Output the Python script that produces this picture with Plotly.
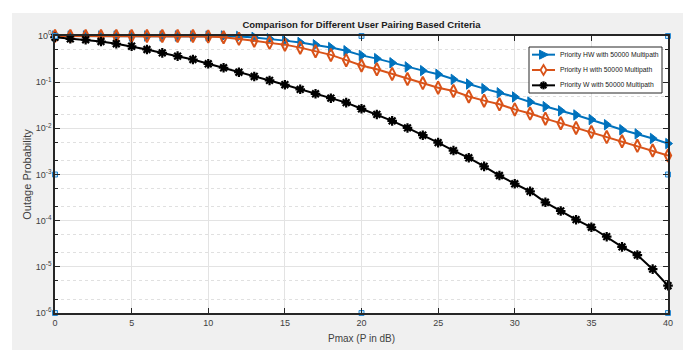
import math
import plotly.graph_objects as go

pmax_db = list(range(0, 41))

priority_hw = [1.0, 1.0, 1.0, 1.0, 1.0, 1.0, 1.0, 1.0, 1.0, 1.0, 1.0, 1.0,
               0.977, 0.933, 0.871, 0.794, 0.724, 0.646, 0.562, 0.479, 0.380,
               0.324, 0.263, 0.214, 0.178, 0.148, 0.115, 0.0912, 0.0724, 0.0589,
               0.0479, 0.0372, 0.0295, 0.0240, 0.0195, 0.0155, 0.0120, 0.00933,
               0.00759, 0.00603, 0.00468]

priority_h = [1.0, 1.0, 1.0, 1.0, 1.0, 1.0, 1.0, 1.0, 1.0, 1.0, 0.98, 0.94,
              0.87, 0.79, 0.71, 0.65, 0.56, 0.47, 0.39, 0.30, 0.23,
              0.19, 0.151, 0.117, 0.0955, 0.0759, 0.0646, 0.049, 0.0398, 0.0331,
              0.0257, 0.0209, 0.0162, 0.0129, 0.0102, 0.0083, 0.00646, 0.00525,
              0.00417, 0.00331, 0.00257]

priority_w = [0.94, 0.87, 0.83, 0.76, 0.68, 0.60, 0.51, 0.43, 0.366, 0.31, 0.25,
              0.205, 0.164, 0.133, 0.109, 0.088, 0.070, 0.056, 0.045, 0.036, 0.0265,
              0.020, 0.0145, 0.0102, 0.0071, 0.0049, 0.0033, 0.0023, 0.0015, 0.00095,
              0.00063, 0.00043, 0.00025, 0.000162, 0.000105, 7.2e-5, 4.5e-5, 2.7e-5,
              1.8e-5, 8.9e-6, 3.9e-6]

series_names = ["Priority HW with 50000 Multipath",
                "Priority H with 50000 Multipath",
                "Priority W with 50000 Multipath"]
series_colors = ["#0072BD", "#D95319", "#000000"]

x_ticks = [0, 5, 10, 15, 20, 25, 30, 35, 40]
y_tick_vals = [1e-6, 1e-5, 1e-4, 1e-3, 1e-2, 1e-1, 1e0]
y_tick_text = ["10<sup>-6</sup>", "10<sup>-5</sup>", "10<sup>-4</sup>", "10<sup>-3</sup>",
               "10<sup>-2</sup>", "10<sup>-1</sup>", "10<sup>0</sup>"]

x_range = [0, 40]
y_log_range = [-6, 0]

W, H = 683, 350
ML, MR, MT, MB = 55, 15, 36, 37
PW, PH = W - ML - MR, H - MT - MB

FONT = "Liberation Sans, Arial, sans-serif"
TXT = "#404040"


def px(X):
    return (X - ML) / PW


def py(Y):
    return (H - MB - Y) / PH


fig = go.Figure()

fig.add_trace(go.Scatter(
    x=pmax_db, y=priority_hw, name=series_names[0], mode="lines+markers",
    line=dict(color=series_colors[0], width=2),
    marker=dict(symbol="triangle-right", size=9, color=series_colors[0],
                line=dict(color=series_colors[0], width=1)),
    cliponaxis=False, showlegend=False))

fig.add_trace(go.Scatter(
    x=pmax_db, y=priority_h, name=series_names[1], mode="lines+markers",
    line=dict(color=series_colors[1], width=2),
    marker=dict(symbol="diamond-tall-open", size=9, color=series_colors[1],
                line=dict(color=series_colors[1], width=2)),
    cliponaxis=False, showlegend=False))

fig.add_trace(go.Scatter(
    x=pmax_db, y=priority_w, name=series_names[2], mode="lines+markers",
    line=dict(color=series_colors[2], width=2),
    marker=dict(symbol="asterisk-open", size=8, color=series_colors[2],
                line=dict(color=series_colors[2], width=2.2)),
    cliponaxis=False, showlegend=False))

# MATLAB-style selection handles at corners/midpoints of the axes box
xmid = (x_range[0] + x_range[1]) / 2
ymid = (y_log_range[0] + y_log_range[1]) / 2
hx = [x_range[0], xmid, x_range[1], x_range[0], x_range[1], x_range[0], xmid, x_range[1]]
hy = [10 ** y_log_range[1]] * 3 + [10 ** ymid] * 2 + [10 ** y_log_range[0]] * 3
fig.add_trace(go.Scatter(
    x=hx, y=hy, mode="markers", showlegend=False, hoverinfo="skip",
    marker=dict(symbol="square", size=5, color="#bfe0f5",
                line=dict(color="#2a8ad4", width=1)),
    cliponaxis=False))

# ---- compact MATLAB-like legend (box, sample lines, marker glyphs, text) ----
LX0, LX1, LY0, LY1 = 529, 662, 47, 93
row_h = (LY1 - LY0) / 3
shapes = [
    dict(type="rect", xref="paper", yref="paper",
         x0=-ML / PW, x1=(12 - ML) / PW, y0=-MB / PH, y1=(H - MB) / PH,
         fillcolor="#ffffff", line=dict(width=0), layer="above"),
    dict(type="rect", xref="paper", yref="paper",
         x0=-ML / PW, x1=(W - ML) / PW, y0=(H - MB - 13) / PH, y1=(H - MB) / PH,
         fillcolor="#ffffff", line=dict(width=0), layer="above"),
    dict(type="rect", xref="paper", yref="paper",
         x0=px(LX0), x1=px(LX1), y0=py(LY1), y1=py(LY0),
         fillcolor="#ffffff", line=dict(color="#262626", width=1), layer="above"),
]
annotations = []


def path(points, close=True):
    s = "M " + " L ".join(f"{px(a):.5f},{py(b):.5f}" for a, b in points)
    return s + (" Z" if close else "")


for i, (name, col) in enumerate(zip(series_names, series_colors)):
    cy = LY0 + row_h * (i + 0.5)
    lx0, lx1 = LX0 + 3, LX0 + 26
    cx = (lx0 + lx1) / 2
    shapes.append(dict(type="line", xref="paper", yref="paper",
                       x0=px(lx0), x1=px(lx1), y0=py(cy), y1=py(cy),
                       line=dict(color=col, width=2), layer="above"))
    if i == 0:
        shapes.append(dict(type="path", xref="paper", yref="paper", layer="above",
                           path=path([(cx - 4, cy - 4.5), (cx + 5, cy), (cx - 4, cy + 4.5)]),
                           fillcolor=col, line=dict(color=col, width=1)))
    elif i == 1:
        shapes.append(dict(type="path", xref="paper", yref="paper", layer="above",
                           path=path([(cx, cy - 5), (cx + 3, cy), (cx, cy + 5), (cx - 3, cy)]),
                           fillcolor="#ffffff", line=dict(color=col, width=1.8)))
    else:
        for ang in (0, 45, 90, 135):
            dx = 4 * math.cos(math.radians(ang))
            dy = 4 * math.sin(math.radians(ang))
            shapes.append(dict(type="path", xref="paper", yref="paper", layer="above",
                               path=path([(cx - dx, cy - dy), (cx + dx, cy + dy)], close=False),
                               line=dict(color=col, width=2.2)))
    annotations.append(dict(text=name, xref="paper", yref="paper",
                            x=px(LX0 + 29), y=py(cy), xanchor="left", yanchor="middle",
                            showarrow=False,
                            font=dict(family=FONT, size=6.8, color="#202020")))

fig.update_layout(
    width=W, height=H,
    margin=dict(l=ML, r=MR, t=MT, b=MB, autoexpand=False),
    paper_bgcolor="#f0f0f0",
    plot_bgcolor="#ffffff",
    title=dict(text="<b>Comparison for Different User Pairing Based Criteria</b>",
               x=(ML + ML + PW) / 2 / W, xanchor="center", y=1 - 25 / H, yanchor="middle",
               font=dict(family=FONT, size=9.5, color="#202020")),
    showlegend=False,
    xaxis=dict(range=x_range, tickvals=x_ticks, ticks="inside", ticklen=5,
               tickcolor="#262626", showline=True, linecolor="#262626", linewidth=1.5,
               mirror="ticks", showgrid=True, gridcolor="#e3e3e3", gridwidth=1,
               zeroline=False,
               tickfont=dict(family=FONT, size=9, color=TXT),
               title=dict(text="Pmax (P in dB)", standoff=8,
                          font=dict(family=FONT, size=10, color=TXT))),
    yaxis=dict(type="log", range=y_log_range, tickvals=y_tick_vals, ticktext=y_tick_text,
               ticks="inside", ticklen=5, tickcolor="#262626",
               showline=True, linecolor="#262626", linewidth=1.5, mirror="ticks",
               showgrid=True, gridcolor="#e3e3e3", gridwidth=1, zeroline=False,
               tickfont=dict(family=FONT, size=9, color=TXT),
               minor=dict(ticks="inside", ticklen=3, tickcolor="#262626",
                          showgrid=True, gridcolor="#e0e0e0", griddash="dot"),
               title=dict(text="Outage Probability", standoff=2,
                          font=dict(family=FONT, size=11, color=TXT))),
    shapes=shapes,
    annotations=annotations,
)

fig.write_html("out.html")
